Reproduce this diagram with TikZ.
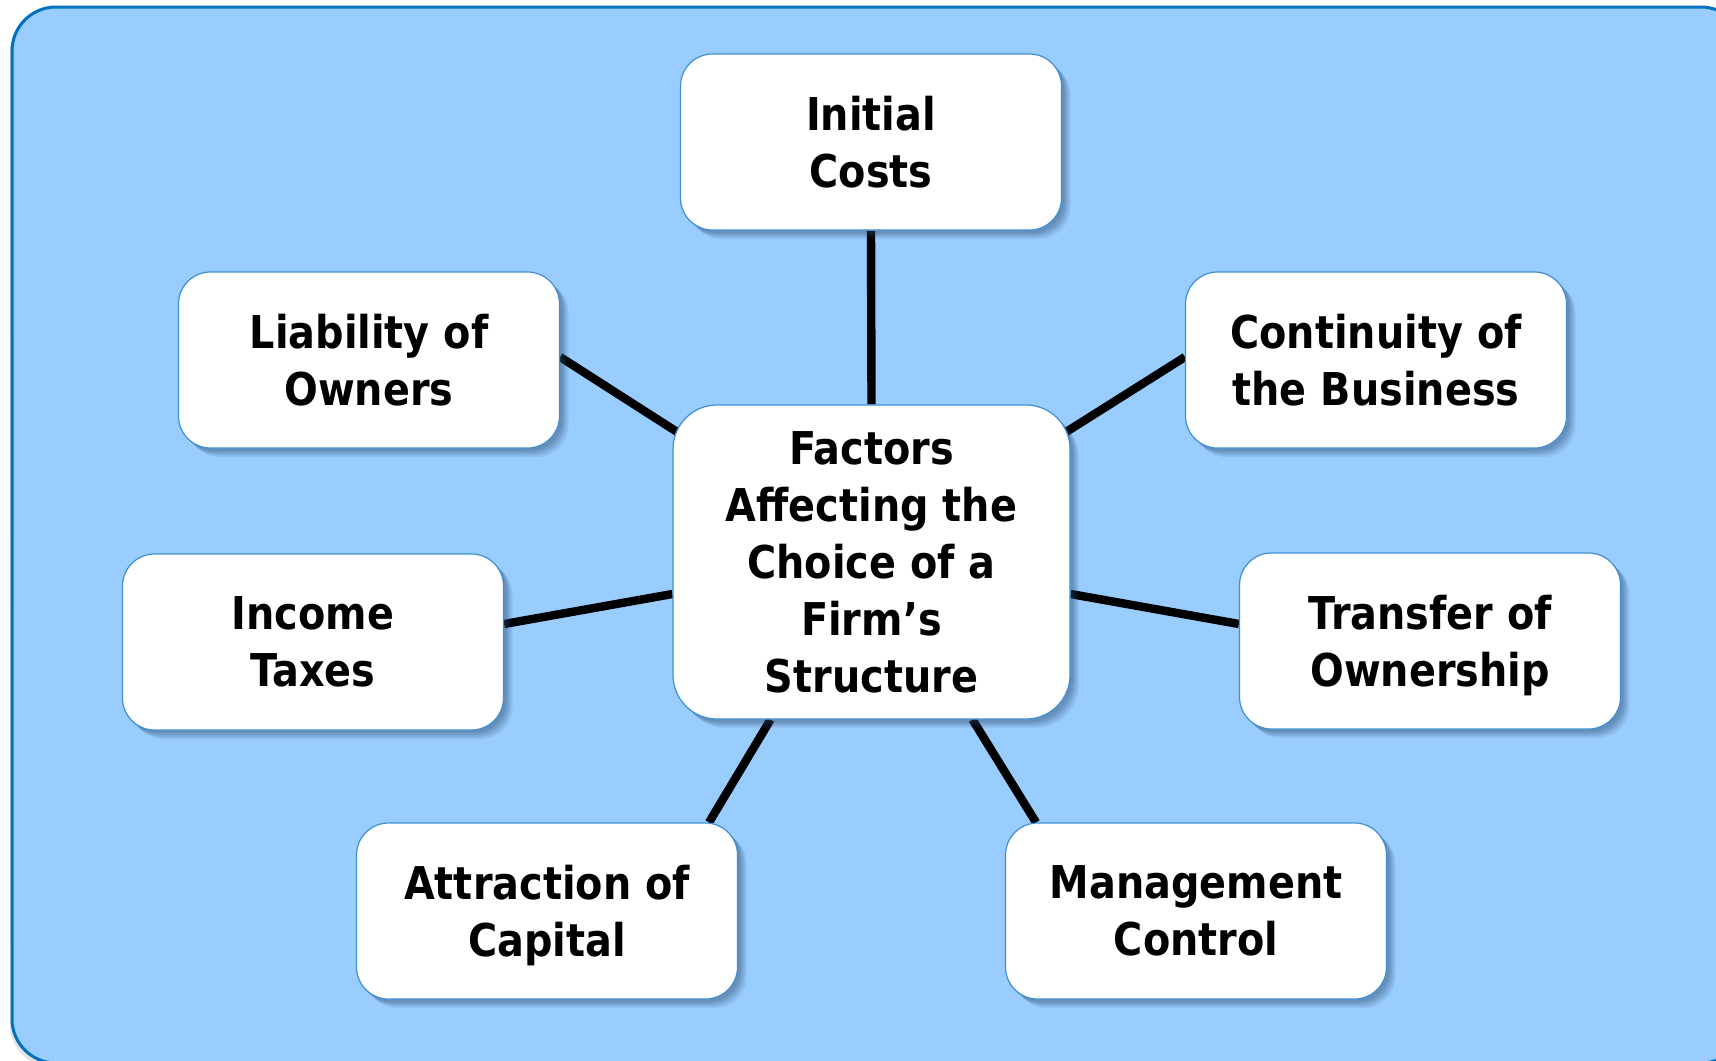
\documentclass[tikz,border=0pt]{standalone}
\usepackage{fontspec}
\setmainfont{DejaVu Sans}[FakeStretch=0.88]
\usetikzlibrary{calc}
\definecolor{panel}{HTML}{99CCFF}
\definecolor{paneledge}{HTML}{0070C0}
\definecolor{boxedge}{HTML}{3F8FD2}
\definecolor{shade}{HTML}{2B4A6A}
\pgfdeclarelayer{panel}
\pgfdeclarelayer{links}
\pgfsetlayers{panel,links,main}
\tikzset{
  softshadow/.style={
    preaction={fill=shade, opacity=0.16, transform canvas={shift={(1.5pt,-1.5pt)}}},
    preaction={fill=shade, opacity=0.16, transform canvas={shift={(2.5pt,-2.5pt)}}},
    preaction={fill=shade, opacity=0.14, transform canvas={shift={(3.5pt,-3.5pt)}}},
    preaction={fill=shade, opacity=0.10, transform canvas={shift={(4.5pt,-4.5pt)}}}},
  factor/.style={draw=boxedge, line width=0.6pt, fill=white, rounded corners=16pt,
    minimum width=190.5pt, minimum height=88pt, inner sep=0pt, align=center,
    font=\fontsize{22.6}{28.5}\selectfont\bfseries, softshadow},
  hub/.style={factor, rounded corners=22pt, minimum width=198.5pt, minimum height=157pt},
  spoke/.style={line width=4.2pt, black},
}
\begin{document}
\begin{tikzpicture}[x=0.5pt,y=-0.5pt]
\useasboundingbox (0,0) rectangle (1716,1060);

% page and panel behind everything
\begin{pgfonlayer}{panel}
  \fill[white] (0,0) rectangle (1716,1060);
  \fill[shade, opacity=0.12] (10,11) [rounded corners=22pt] rectangle (1743,1068);
  \path[fill=panel, draw=paneledge, line width=1.5pt, rounded corners=22pt]
    (12,7) rectangle (1745,1063);
\end{pgfonlayer}

% central topic and the seven factors
\node[hub] (hub) at (871.5,562) {Factors\\Affecting the\\Choice of a\\Firm’s\\Structure};
\node[factor] (init) at (871,142) {Initial\\Costs};
\node[factor] (liab) at (369,360) {Liability of\\Owners};
\node[factor] (cont) at (1376,360) {Continuity of\\the Business};
\node[factor] (income) at (313,642) {Income\\Taxes};
\node[factor] (transfer) at (1430,641) {Transfer of\\\smash{Ownership}};
\node[factor] (attr) at (547,911) {Attraction of\\\smash{Capital}};
\node[factor] (mgmt) at (1196,911) {Management\\Control};

% spokes, drawn beneath the boxes
\begin{pgfonlayer}{links}
  \draw[spoke] (init.south) -- (hub.north);
  \draw[spoke] ($(liab.east)+(0,-3)$) -- ($(hub.north west)+(21,38)$);
  \draw[spoke] ($(cont.west)+(0,-3)$) -- ($(hub.north east)+(-21,38)$);
  \draw[spoke] ($(income.east)+(0,-18)$) -- ($(hub.west)+(0,32)$);
  \draw[spoke] ($(transfer.west)+(0,-17)$) -- ($(hub.east)+(0,32)$);
  \draw[spoke] ($(attr.north)+(162,0)$) -- ($(hub.south)+(-101,0)$);
  \draw[spoke] ($(mgmt.north)+(-160,0)$) -- ($(hub.south)+(101,0)$);
\end{pgfonlayer}
\end{tikzpicture}
\end{document}
